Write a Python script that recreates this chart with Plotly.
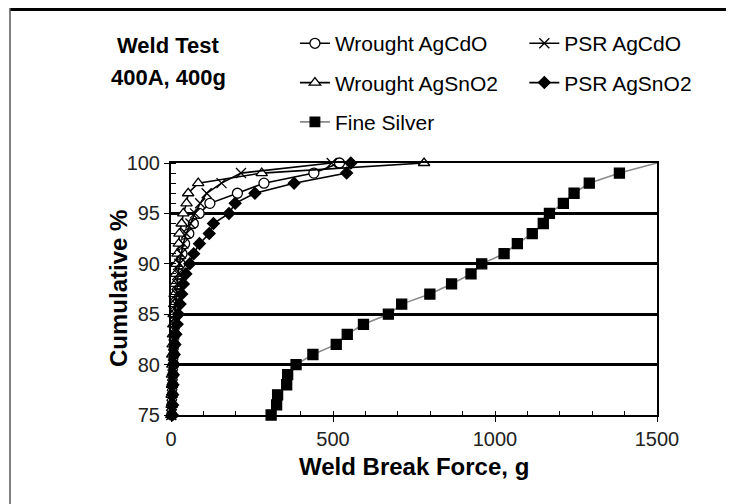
import plotly.graph_objects as go

# ── Data ──────────────────────────────────────────────────────────────────────
cum_pct = list(range(75, 101))  # 75 .. 100

wrought_agcdo = [2, 3, 4, 5, 6, 8, 9, 10, 12, 13, 15, 17, 19, 21, 24, 28,
                 34, 42, 55, 69, 87, 120, 205, 287, 441, 520]
psr_agcdo = [1, 2, 3, 4, 5, 6, 7, 8, 10, 11, 13, 15, 17, 19, 22, 26,
             31, 38, 47, 60, 74, 90, 110, 156, 216, 496]
wrought_agsno2 = [1, 2, 2, 3, 3, 4, 4, 5, 6, 7, 8, 10, 11, 13, 15, 17,
                  20, 24, 26, 33, 38, 48, 53, 84, 280, 781]
psr_agsno2 = [4, 5, 5, 6, 7, 8, 10, 12, 15, 19, 23, 28, 33, 38, 46, 58,
              70, 88, 118, 131, 179, 198, 259, 380, 542, 555]

fine_silver_pct = [75, 76, 77, 78, 79, 80, 81, 82, 83, 84, 85, 86, 87, 88,
                   89, 90, 91, 92, 93, 94, 95, 96, 97, 98, 99, 100]
fine_silver = [309, 326, 329, 357, 360, 386, 438, 510, 544, 594, 671, 712,
               799, 866, 926, 959, 1028, 1069, 1115, 1149, 1168, 1211,
               1244, 1291, 1384, 1500]

# ── Style ─────────────────────────────────────────────────────────────────────
FONT = "Liberation Sans, Arial, sans-serif"
INK = "#000000"

# page body adds an 8px offset, so the figure is 8px smaller than the window
W, H = 726, 496
ML, MR, MT, MB = 163, 77, 155, 89

fig = go.Figure()


def add_series(x, y, name, symbol, size, fill, legend, line_color=INK, sizes=None):
    fig.add_trace(go.Scatter(
        x=x, y=y, name=name, mode="lines+markers",
        line=dict(color=line_color, width=1.6),
        marker=dict(symbol=symbol, size=sizes if sizes else size, color=fill,
                    opacity=1, line=dict(color=INK, width=1.3)),
        legend=legend, legendgroup=name,
        cliponaxis=False,
    ))


add_series(wrought_agcdo, cum_pct, "Wrought AgCdO", "circle", 10, "white", "legend")
add_series(wrought_agsno2, cum_pct, "Wrought AgSnO2", "triangle-up", 10, "white", "legend")
# last point sits on the plot corner, where the line runs out without a marker
add_series(fine_silver, fine_silver_pct, "Fine Silver", "square", 10, "black", "legend",
           line_color="#8a8a8a", sizes=[10] * (len(fine_silver) - 1) + [0])
add_series(psr_agcdo, cum_pct, "PSR AgCdO", "x-thin-open", 10, INK, "legend2")
add_series(psr_agsno2, cum_pct, "PSR AgSnO2", "diamond", 9, INK, "legend2")

legend_style = dict(
    font=dict(family=FONT, size=21, color=INK),
    bgcolor="rgba(0,0,0,0)",
    tracegroupgap=9,
    itemwidth=30,
    xanchor="left", yanchor="top",
)

fig.update_layout(
    width=W, height=H,
    paper_bgcolor="white", plot_bgcolor="white",
    margin=dict(l=ML, r=MR, t=MT, b=MB),
    font=dict(family=FONT, size=20, color=INK),
    legend=dict(x=0.255, y=1.555, **legend_style),
    legend2=dict(x=0.727, y=1.555, **legend_style),
    xaxis=dict(
        range=[0, 1500], dtick=500,
        showline=True, linecolor=INK, linewidth=2, mirror=True,
        showgrid=False, zeroline=False,
        ticks="outside", ticklen=5, tickcolor=INK,
        minor=dict(dtick=100, ticks="inside", ticklen=4, tickcolor=INK),
        tickfont=dict(size=20, color="#222"),
    ),
    yaxis=dict(
        range=[75, 100], dtick=5,
        showline=True, linecolor=INK, linewidth=2, mirror=True,
        showgrid=True, gridcolor=INK, gridwidth=2.5, zeroline=False,
        ticks="outside", ticklen=5, tickcolor=INK,
        minor=dict(dtick=1, ticks="inside", ticklen=5, tickcolor=INK, showgrid=False),
        tickfont=dict(size=20, color="#222"),
    ),
)

# titles
fig.add_annotation(text="<b>Weld Test</b>", xref="paper", yref="paper",
                   x=-0.005, y=1.468, xanchor="center", yanchor="middle",
                   showarrow=False, font=dict(family=FONT, size=22, color=INK))
fig.add_annotation(text="<b>400A, 400g</b>", xref="paper", yref="paper",
                   x=-0.005, y=1.341, xanchor="center", yanchor="middle",
                   showarrow=False, font=dict(family=FONT, size=22, color=INK))
fig.add_annotation(text="<b>Weld Break Force, g</b>", xref="paper", yref="paper",
                   x=0.5, y=-0.206, xanchor="center", yanchor="middle",
                   showarrow=False, font=dict(family=FONT, size=24, color=INK))
fig.add_annotation(text="<b>Cumulative %</b>", xref="paper", yref="paper",
                   x=-0.109, y=0.5, xanchor="center", yanchor="middle", textangle=-90,
                   showarrow=False, font=dict(family=FONT, size=24, color=INK))

# outer frame: thick top rule and thin left rule
pw, ph = W - ML - MR, H - MT - MB
fig.add_shape(type="line", xref="paper", yref="paper",
              x0=(2 - ML) / pw, x1=(W - ML) / pw, y0=(H - MB - 1.5) / ph, y1=(H - MB - 1.5) / ph,
              line=dict(color=INK, width=3))
fig.add_shape(type="line", xref="paper", yref="paper",
              x0=(2 - ML) / pw, x1=(2 - ML) / pw, y0=(H - MB) / ph, y1=-MB / ph,
              line=dict(color="#555", width=1.5))

fig.write_html("out.html")
